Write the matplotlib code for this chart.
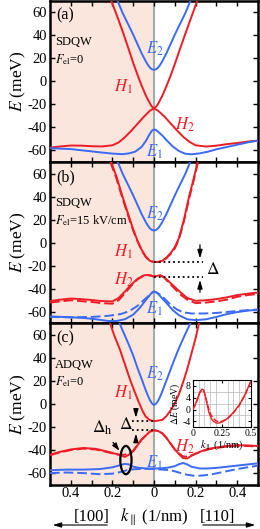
import matplotlib
matplotlib.use("Agg")
import matplotlib.pyplot as plt
from matplotlib.patches import Ellipse

plt.rcParams['font.family'] = ['Liberation Serif', 'DejaVu Serif']
plt.rcParams['mathtext.fontset'] = 'stix'
plt.rcParams['axes.unicode_minus'] = False

RED = '#ee1c24'
BLUE = '#3a6bf4'
SHADE = '#fae6dd'
VLINE = '#a3adaa'

# ---------------- data (k in 1/nm, E in meV) ----------------
# panel (a)
k_E2a = [-0.18, -0.15, -0.12, -0.1, -0.08, -0.06, -0.04, -0.03, -0.02, -0.01, 0,
         0.01, 0.02, 0.03, 0.04, 0.06, 0.08, 0.1, 0.12, 0.15, 0.18]
E_E2a = [72, 59, 48, 40.5, 32.5, 24.5, 17.5, 14.5, 12, 10.5, 10,
         10.5, 12, 14.5, 17.5, 24.5, 32.5, 40.5, 48, 59, 72]
k_H1a = [-0.21, -0.18, -0.15, -0.12, -0.1, -0.08, -0.06, -0.04, -0.02, -0.01, 0,
         0.01, 0.02, 0.04, 0.06, 0.08, 0.1, 0.12, 0.15, 0.18, 0.21]
E_H1a = [72, 58, 43, 27, 16, 6, -3.5, -12, -19, -22, -23.5,
         -22, -19.5, -12.5, -4, 5, 15, 25.5, 41, 56, 71]
k_H2a = [-0.5, -0.45, -0.4, -0.35, -0.3, -0.25, -0.2, -0.17, -0.14, -0.11, -0.08, -0.05, -0.02, 0,
         0.02, 0.05, 0.08, 0.11, 0.14, 0.17, 0.2, 0.25, 0.3, 0.35, 0.4, 0.45, 0.5]
E_H2a = [-57.5, -56.5, -55.7, -55.8, -56.3, -56.5, -55.5, -53, -48.5, -43, -37, -31, -25.5, -23.5,
         -25.5, -30.5, -36.5, -42.5, -48, -52.5, -55.5, -56.6, -55.8, -54.5, -53.5, -52.3, -51.4]
k_E1a = [-0.5, -0.4, -0.3, -0.25, -0.2, -0.15, -0.12, -0.09, -0.06, -0.04, -0.02, -0.01, 0,
         0.01, 0.02, 0.04, 0.06, 0.09, 0.12, 0.15, 0.18, 0.22, 0.26, 0.3, 0.35, 0.4, 0.45, 0.5]
E_E1a = [-58, -58.8, -60.8, -61.8, -62.7, -63.2, -62.5, -61, -57, -52, -45.5, -42.8, -41.7,
         -42.3, -43.8, -47, -51, -56.5, -60.5, -62.8, -63.3, -62.5, -61, -59, -57, -55, -53, -51.4]

# panel (b)
k_E2b = k_E2a
E_E2b = [72.5, 59.5, 48.5, 41, 33, 25, 18, 15, 12.5, 11, 10.5,
         11, 12.5, 15, 18, 25, 33, 41, 48.5, 59.5, 72.5]
k_H1b = [-0.21, -0.18, -0.155, -0.13, -0.1, -0.08, -0.06, -0.04, -0.02, 0, 0.02, 0.04, 0.06, 0.08,
         0.1, 0.12, 0.144, 0.17, 0.19, 0.21]
E_H1b = [72, 57, 42, 28, 11.5, 2, -6, -12, -15.8, -16.7, -16.7, -15.8, -13, -9, -4, 4, 20, 41, 55, 70]
E_H1b_d = [70, 55.5, 40.5, 26.5, 10.5, 1.5, -6.5, -12.3, -16, -16.8, -16.8, -16, -13.5, -9.8, -5, 3, 18.5, 39, 53.5, 68.5]
k_H2b = [-0.5, -0.45, -0.4, -0.35, -0.3, -0.25, -0.2, -0.17, -0.14, -0.11, -0.08, -0.05, -0.03, -0.015, 0,
         0.015, 0.03, 0.05, 0.07, 0.1, 0.13, 0.16, 0.2, 0.25, 0.3, 0.35, 0.4, 0.45, 0.5]
E_H2b = [-50.7, -49.5, -48.5, -49, -49.8, -50.7, -51, -48, -42.5, -36.5, -31.5, -28.5, -28, -28.5, -29.5,
         -28.8, -28.2, -30, -33.5, -38.5, -43.5, -48, -50.5, -50, -49, -47.5, -45.5, -44.3, -43.3]
E_H2b_d = [-52, -51, -50, -50.8, -51.5, -52.5, -53, -50, -44, -37.5, -32, -28.8, -28.2, -28.6, -29.5,
           -28.9, -28.4, -30.5, -34.5, -40, -45.5, -49.5, -52.5, -52, -51, -49.5, -47, -45.5, -44.5]
k_E1b = [-0.5, -0.4, -0.34, -0.28, -0.22, -0.18, -0.14, -0.1, -0.07, -0.04, -0.02, -0.01, 0,
         0.01, 0.02, 0.04, 0.06, 0.09, 0.12, 0.16, 0.2, 0.25, 0.3, 0.35, 0.4, 0.45, 0.5]
E_E1b = [-64, -64.8, -65.3, -66.5, -68, -68, -66.5, -62.5, -57, -50, -45.5, -43.3, -42.4,
         -43, -44.5, -48.5, -52.4, -58.5, -63, -66.5, -67.3, -66.5, -64.5, -62, -60.3, -59, -58.2]
k_E1b_d = [-0.5, -0.4, -0.3, -0.22, -0.16, -0.12, -0.08, -0.05, -0.025, 0,
           0.025, 0.05, 0.08, 0.11, 0.14, 0.18, 0.24, 0.3, 0.36, 0.42, 0.5]
E_E1b_d = [-64.5, -64.8, -64.5, -63.5, -62, -59.5, -55, -50, -46, -42.4,
           -44.5, -48.5, -54, -58, -60.5, -61.5, -61.5, -61, -60, -59, -58]

# panel (c)
k_E2c = k_E2a
E_E2c = [76, 63.5, 51, 42, 31.5, 22, 12, 7.5, 3.5, 0.5, -1,
         0.3, 2.8, 6.5, 11, 20.5, 30, 39.5, 48.5, 60.5, 72]
k_H1c = [-0.22, -0.211, -0.19, -0.163, -0.14, -0.115, -0.095, -0.075, -0.055, -0.04, -0.02, 0,
         0.02, 0.04, 0.06, 0.08, 0.1, 0.12, 0.144, 0.16, 0.176, 0.2, 0.22]
E_H1c = [75, 69.8, 59, 46.8, 34.5, 21, 11.5, 2.3, -6, -11, -14, -14.9,
         -14.5, -13.8, -10.5, -5.5, 0.5, 8.5, 21, 30.5, 41, 57, 73]
k_H2c = [-0.5, -0.45, -0.4, -0.34, -0.28, -0.22, -0.18, -0.16, -0.14, -0.12, -0.1, -0.08, -0.06, -0.04,
         -0.02, 0, 0.02, 0.04, 0.06, 0.08, 0.1, 0.12, 0.14, 0.16, 0.18, 0.22, 0.26, 0.3, 0.35, 0.4,
         0.45, 0.5]
E_H2c = [-44, -41.5, -39.5, -38.2, -39, -41.5, -43.5, -44.5, -46, -44, -41, -36, -31, -27.5,
         -24, -22.8, -23.5, -25.5, -29.5, -34.5, -39.5, -43.5, -47, -47.3, -45, -41.5, -39, -37.8, -36.5, -35.8,
         -36, -36.5]
E_H2c_d = [-44.5, -42, -40, -38.8, -39.5, -42, -43.8, -44.2, -44, -43, -40.5, -36, -31, -27.5,
           -24, -22.8, -23.5, -25.5, -29.5, -34.5, -39.5, -43, -45.5, -45.8, -44.5, -41.8, -39.5, -38.2, -37, -36.3,
           -36.5, -37]
k_E1c = [-0.5, -0.42, -0.34, -0.26, -0.2, -0.17, -0.14, -0.12, -0.1, -0.07, -0.04, 0,
         0.04, 0.07, 0.1, 0.12, 0.14, 0.16, 0.18, 0.22, 0.26, 0.3, 0.35, 0.4, 0.45, 0.5]
E_E1c = [-57.5, -57, -57, -56.5, -55, -53.5, -52, -52.5, -54.5, -55.5, -56, -56,
         -55.8, -55.2, -54, -52.3, -51.3, -52.5, -54.5, -56, -56, -55.5, -54.5, -53.5, -52.5, -51.5]
k_E1c_d = [-0.5, -0.42, -0.34, -0.26, -0.2, -0.16, -0.12, -0.08, -0.04, 0, 0.04, 0.08, 0.12, 0.16,
           0.2, 0.24, 0.28, 0.32, 0.36, 0.4, 0.45, 0.5]
E_E1c_d = [-60, -59.5, -60, -61, -60.5, -59, -57, -56.5, -56.3, -56.5, -57, -57.5, -59.5, -61.5,
           -62.5, -62, -61, -59.5, -58, -56.5, -55, -53.5]

# inset of (c)
k_in = [0, 0.02, 0.04, 0.06, 0.08, 0.09, 0.1, 0.12, 0.14, 0.16, 0.18, 0.2, 0.22, 0.25, 0.3, 0.35, 0.4, 0.45, 0.5]
dE_in = [0, 1.5, 3.5, 5.8, 6.9, 6.8, 6, 2.5, -1, -3, -4, -4.5, -4.6, -4.3, -3, -1, 1.5, 5, 9.5]
dE_in_d = [0, 1.3, 3.3, 5.6, 6.6, 6.5, 5.8, 3, 0, -2, -3, -3.8, -4, -4, -3.1, -1.2, 1.3, 4.8, 9.3]

xtick_pos = [-0.4, -0.2, 0, 0.2, 0.4]
xtick_lab = ['0.4', '0.2', '0', '0.2', '0.4']
ytick_pos = [-60, -40, -20, 0, 20, 40, 60]

# ---------------- figure ----------------
fig = plt.figure(figsize=(2.6, 5.29), dpi=100)
W, H = 260.0, 529.0
left = 50 / W
width = 208 / W
ph = 161.3 / H
bottoms = [1 - 162 / H, 1 - 323.3 / H, 1 - 484.6 / H]
axes = [fig.add_axes([left, b, width, ph]) for b in bottoms]

LW = 1.4
for i, ax in enumerate(axes):
    ax.set_xlim(-0.5, 0.5)
    ax.set_ylim(-70, 70)
    ax.axvspan(-0.5, 0, color=SHADE, zorder=0, lw=0)
    ax.axvline(0, color=VLINE, lw=1.5, zorder=1)
    ax.set_xticks(xtick_pos)
    ax.set_xticks([-0.3, -0.1, 0.1, 0.3], minor=True)
    ax.set_yticks(ytick_pos)
    ax.tick_params(which='both', direction='in', top=True, right=True, length=3.5, width=1.0,
                   labelsize=10.5, pad=2)
    if i < 2:
        ax.set_xticklabels([])
    else:
        ax.set_xticklabels(xtick_lab)
    ax.set_ylabel('$E$ (meV)', fontsize=12.5, labelpad=0)
    for s in ax.spines.values():
        s.set_linewidth(1.8)

axa, axb, axc = axes

# (a)
axa.plot(k_E2a, E_E2a, color=BLUE, lw=LW, zorder=3)
axa.plot(k_H1a, E_H1a, color=RED, lw=LW, zorder=3)
axa.plot(k_H2a, E_H2a, color=RED, lw=LW, zorder=3)
axa.plot(k_E1a, E_E1a, color=BLUE, lw=LW, zorder=3)

# (b)
axb.plot(k_E2b, E_E2b, color=BLUE, lw=LW, zorder=3)
axb.plot(k_H1b, E_H1b, color=RED, lw=LW, zorder=3)
axb.plot(k_H1b, E_H1b_d, color=RED, lw=LW, ls=(0, (5, 2)), zorder=3)
axb.plot(k_H2b, E_H2b, color=RED, lw=LW, zorder=3)
axb.plot(k_H2b, E_H2b_d, color=RED, lw=LW, ls=(0, (5, 2)), zorder=3)
axb.plot(k_E1b, E_E1b, color=BLUE, lw=LW, zorder=3)
axb.plot(k_E1b_d, E_E1b_d, color=BLUE, lw=LW, ls=(0, (5, 2)), zorder=3)

# (c)
axc.plot(k_E2c, E_E2c, color=BLUE, lw=LW, zorder=3)
axc.plot(k_H1c, E_H1c, color=RED, lw=LW, zorder=3)
axc.plot(k_H2c, E_H2c, color=RED, lw=LW, zorder=3)
axc.plot(k_H2c, E_H2c_d, color=RED, lw=LW, ls=(0, (5, 2)), zorder=3)
axc.plot(k_E1c, E_E1c, color=BLUE, lw=LW, zorder=3)
axc.plot(k_E1c_d, E_E1c_d, color=BLUE, lw=LW, ls=(0, (5, 2)), zorder=3)

# panel texts
panel_info = [('(a)', 'SDQW', r'$F_{\rm el}$=0'),
              ('(b)', 'SDQW', r'$F_{\rm el}$=15 kV/cm'),
              ('(c)', 'ADQW', r'$F_{\rm el}$=0')]
for ax, (lab, kind, fld) in zip(axes, panel_info):
    ax.text(-0.47, 57, lab, fontsize=11.5, va='center', ha='left', zorder=5)
    ax.text(-0.475, 34, kind, fontsize=9, va='center', ha='left', zorder=5)
    ax.text(-0.475, 19, fld, fontsize=9, va='center', ha='left', zorder=5)

def band_labels(ax, e2, h1, h2, e1, h2x=0.10, e1x=-0.04):
    ax.text(-0.04, e2, '$E_2$', color=BLUE, fontsize=12, va='center', ha='left', zorder=5)
    ax.text(-0.19, h1, '$H_1$', color=RED, fontsize=12, va='center', ha='left', zorder=5)
    ax.text(h2x, h2, '$H_2$', color=RED, fontsize=12, va='center', ha='left', zorder=5)
    ax.text(e1x, e1, '$E_1$', color=BLUE, fontsize=12, va='center', ha='left', zorder=5)

band_labels(axa, 28, -5, -38, -61)
band_labels(axb, 25, -8, -32, -57, h2x=-0.19)
band_labels(axc, 26, 10, -37, -51)

# annotations (b)
axb.plot([0, 0.237], [-16.7, -16.7], color='black', ls=':', lw=1.3, zorder=4)
axb.plot([0, 0.237], [-29.5, -29.5], color='black', ls=':', lw=1.3, zorder=4)
axb.annotate('', xy=(0.221, -16.2), xytext=(0.221, 0.5),
             arrowprops=dict(arrowstyle='-|>,head_length=0.5,head_width=0.15', color='black', lw=0.9))
axb.annotate('', xy=(0.221, -30.0), xytext=(0.221, -45.5),
             arrowprops=dict(arrowstyle='-|>,head_length=0.5,head_width=0.15', color='black', lw=0.9))
axb.text(0.25, -23.5, r'$\Delta$', fontsize=12.5, va='center', ha='left', zorder=5)

# annotations (c)
axc.plot([-0.107, 0], [-14.9, -14.9], color='black', ls=':', lw=1.3, zorder=4)
axc.plot([-0.107, 0], [-22.8, -22.8], color='black', ls=':', lw=1.3, zorder=4)
axc.annotate('', xy=(-0.087, -14.4), xytext=(-0.087, -3.5),
             arrowprops=dict(arrowstyle='-|>,head_length=0.5,head_width=0.15', color='black', lw=0.9))
axc.annotate('', xy=(-0.087, -23.3), xytext=(-0.087, -33.5),
             arrowprops=dict(arrowstyle='-|>,head_length=0.5,head_width=0.15', color='black', lw=0.9))
axc.text(-0.135, -18.5, r'$\Delta$', fontsize=12.5, va='center', ha='center', zorder=5)
axc.text(-0.25, -21, r'$\Delta_{\rm h}$', fontsize=12.5, va='center', ha='center', zorder=5)
axc.annotate('', xy=(-0.158, -42.5), xytext=(-0.205, -31.5),
             arrowprops=dict(arrowstyle='-|>,head_length=0.45,head_width=0.15', color='black', lw=0.9))
axc.add_patch(Ellipse((-0.135, -48.7), 0.054, 24.5, fill=False, ec='black', lw=1.6, zorder=6))

# inset
axi = fig.add_axes([192.7 / W, 1 - 427.3 / H, 58 / W, 47.3 / H])
axi.set_facecolor('white')
axi.set_xlim(0, 0.5)
axi.set_ylim(-6, 10)
axi.set_xticks([0, 0.25, 0.5])
axi.set_xticklabels(['0', '0.25', '0.5'])
axi.set_yticks([-4, 0, 4, 8])
axi.set_xticks([i * 0.05 for i in range(11)], minor=True)
axi.set_yticks([-6, -4, -2, 0, 2, 4, 6, 8, 10], minor=True)
axi.grid(which='minor', color='#b8b8b8', lw=0.5)
axi.tick_params(which='both', direction='in', length=0, labelsize=7, pad=1.5)
axi.tick_params(which='major', length=2, top=True, right=True)
axi.plot(k_in, dE_in, color=RED, lw=1.0, zorder=3)
axi.plot(k_in, dE_in_d, color=RED, lw=1.0, ls=(0, (4, 1.5)), zorder=3)
axi.set_ylabel(r'$\Delta E$ (meV)', fontsize=7, labelpad=0)
axi.set_xlabel(r'$k_{\parallel}$ (1/nm)', fontsize=7.5, labelpad=0)
for s in axi.spines.values():
    s.set_linewidth(0.8)

# bottom labels
fig.text(91.5 / W, 1 - 517 / H, '[100]', fontsize=12, ha='center', va='center')
fig.text(154 / W, 1 - 517 / H, r'$k_{\parallel}$ (1/nm)', fontsize=12, ha='center', va='center')
fig.text(217.5 / W, 1 - 517 / H, '[110]', fontsize=12, ha='center', va='center')
fig.patches.append(matplotlib.patches.FancyArrowPatch(
    (110 / W, 1 - 525 / H), (50 / W, 1 - 525 / H), transform=fig.transFigure,
    arrowstyle='-|>,head_length=5,head_width=1.5', color='black', lw=0.8))
fig.patches.append(matplotlib.patches.FancyArrowPatch(
    (200 / W, 1 - 525 / H), (258 / W, 1 - 525 / H), transform=fig.transFigure,
    arrowstyle='-|>,head_length=5,head_width=1.5', color='black', lw=0.8))

fig.savefig('out.png', dpi=100)
